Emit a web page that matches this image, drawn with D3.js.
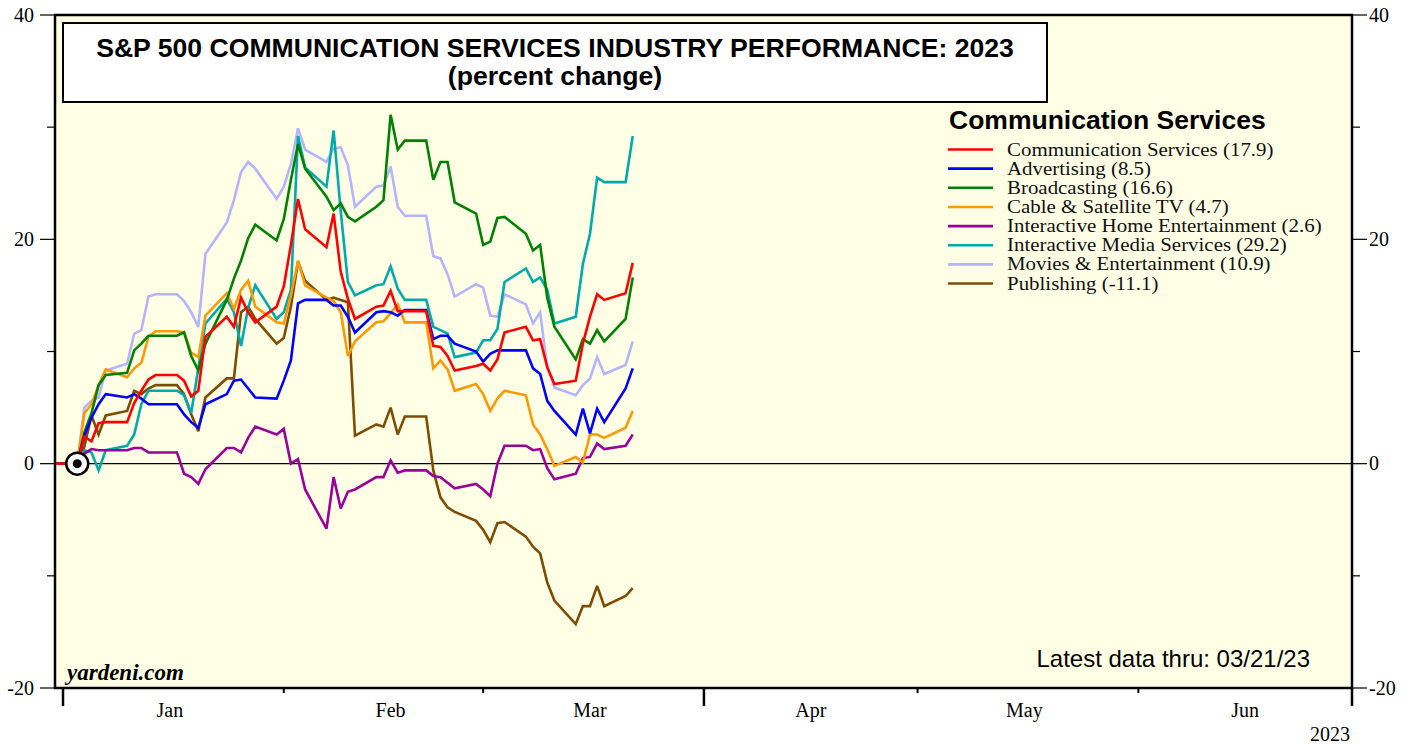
<!DOCTYPE html>
<html>
<head>
<meta charset="utf-8">
<script src="https://cdn.jsdelivr.net/npm/d3@7"></script>
<style>
  html, body { margin: 0; padding: 0; background: #ffffff; }
  svg { display: block; }
</style>
</head>
<body>
<svg id="chart" width="1417" height="744"></svg>
<script>
// ---------------- DATA ----------------
const dates = [
  "2022-12-30","2023-01-02","2023-01-03","2023-01-04","2023-01-05","2023-01-06",
  "2023-01-09","2023-01-10","2023-01-11","2023-01-12","2023-01-13",
  "2023-01-16","2023-01-17","2023-01-18","2023-01-19","2023-01-20",
  "2023-01-23","2023-01-24","2023-01-25","2023-01-26","2023-01-27",
  "2023-01-30","2023-01-31","2023-02-01","2023-02-02","2023-02-03",
  "2023-02-06","2023-02-07","2023-02-08","2023-02-09","2023-02-10",
  "2023-02-13","2023-02-14","2023-02-15","2023-02-16","2023-02-17",
  "2023-02-20","2023-02-21","2023-02-22","2023-02-23","2023-02-24",
  "2023-02-27","2023-02-28","2023-03-01","2023-03-02","2023-03-03",
  "2023-03-06","2023-03-07","2023-03-08","2023-03-09","2023-03-10",
  "2023-03-13","2023-03-14","2023-03-15","2023-03-16","2023-03-17",
  "2023-03-20","2023-03-21"
];

const communicationServices = [0,0,2.4,2.0,3.6,3.7, 3.7,5.4,6.5,7.5,7.9, 7.9,7.4,6.0,6.5,11.3, 13.1,12.2,14.8,13.5,12.6, 14.0,15.8,19.5,23.6,20.9, 19.3,22.3,17.1,14.7,12.9, 14.0,14.1,15.4,13.6,13.6, 13.6,10.5,10.4,9.6,8.3, 8.7,8.9,8.3,9.3,11.7, 12.2,11.0,11.1,8.6,7.1, 7.4,10.7,13.1,15.1,14.6, 15.2,17.9];
const advertising = [0,0,2.5,4.1,5.3,6.2, 5.9,6.2,5.8,5.3,5.3, 5.3,4.4,3.7,3.2,5.3, 6.2,7.4,7.5,6.7,5.9, 5.8,7.4,9.2,14.3,14.6, 14.6,14.1,14.1,13.1,11.7, 13.5,13.6,13.5,13.2,13.7, 13.7,11.1,11.4,11.4,10.7, 10.0,9.1,9.8,10.1,10.1, 10.1,8.5,8.0,5.6,4.7, 2.6,4.9,2.7,4.9,3.7, 6.7,8.5];
const broadcasting = [0,0,2.8,4.5,7.0,7.9, 8.1,10.1,10.7,11.4,11.4, 11.4,11.7,9.6,8.3,10.7, 14.6,16.5,18.1,20.1,21.3, 19.9,21.8,25.3,28.5,26.3, 23.8,22.6,23.2,22.0,21.6, 22.9,23.5,31.1,28.0,28.8, 28.8,25.3,26.9,26.9,23.3, 22.3,19.5,19.8,21.9,22.0, 20.5,19.0,19.5,14.8,12.2, 9.3,11.1,10.7,11.9,10.9, 12.9,16.6];
const cableSatellite = [0,0,4.5,5.3,7.0,8.4, 7.7,8.5,9.0,11.3,11.8, 11.8,11.7,9.9,9.5,13.2, 15.2,13.8,15.5,16.3,14.0, 12.6,12.5,15.0,18.1,15.9, 14.8,14.5,13.5,9.6,10.9, 12.6,12.7,13.4,14.2,12.6, 12.6,8.5,9.2,8.4,6.5, 7.1,6.2,4.7,5.8,6.5, 6.1,3.5,2.6,1.3,-0.2, 0.6,0.1,2.6,2.6,2.3, 3.2,4.7];
const interactiveHome = [0,0,0.9,1.3,1.2,1.2, 1.2,1.4,1.4,1.0,1.0, 1.0,-0.9,-1.2,-1.8,-0.5, 1.4,1.4,1.0,2.3,3.3, 2.6,3.1,0.0,0.4,-2.3, -5.8,-1.2,-4.0,-2.5,-2.3, -1.2,-1.2,0.3,-0.8,-0.6, -0.6,-1.1,-1.2,-1.7,-2.2, -1.8,-2.3,-2.9,0.0,1.6, 1.6,1.2,1.3,-0.4,-1.4, -0.9,0.5,0.6,1.8,1.3, 1.6,2.6];
const interactiveMedia = [0,0,1.2,1.0,-0.6,1.2, 1.6,2.6,5.3,6.5,6.5, 6.5,6.1,4.5,8.5,12.5, 14.7,13.5,10.5,13.9,15.9, 12.9,13.5,15.5,29.2,26.4, 24.7,29.7,22.5,16.2,15.0, 15.9,16.0,17.6,15.6,14.6, 14.6,12.2,11.9,11.6,9.5, 9.9,11.0,11.0,12.0,16.2, 17.4,16.2,16.6,15.5,12.5, 13.1,17.8,20.5,25.5,25.1, 25.1,29.2];
const moviesEntertainment = [0,0,5.0,5.6,5.9,8.3, 8.9,11.6,11.9,14.9,15.1, 15.1,14.5,13.5,12.2,18.7, 21.5,23.5,26.0,26.9,26.3, 23.6,24.7,26.7,29.9,28.0, 26.9,28.1,28.2,26.6,22.9, 24.7,24.8,26.5,22.9,22.1, 22.1,18.5,18.3,16.9,14.9, 16.0,15.7,13.2,13.1,15.1, 14.2,12.5,13.5,8.6,6.8, 6.1,7.0,7.6,9.5,8.0, 8.8,10.9];
const publishing = [0,0,1.5,4.3,2.6,4.3, 4.7,6.5,6.2,6.7,7.0, 7.0,6.2,4.4,2.9,5.9, 7.6,7.6,13.5,14.0,12.9, 10.7,11.2,14.0,18.0,16.3, 14.6,14.8,14.6,14.4,2.5, 3.5,3.3,5.0,2.6,4.2, 4.2,-0.6,-3.0,-3.9,-4.3, -5.1,-5.9,-7.0,-5.3,-5.2, -6.5,-7.4,-8.0,-10.6,-12.2, -14.3,-12.7,-12.7,-10.9,-12.7, -11.8,-11.1];

const seriesNames = [
  "Communication Services (17.9)",
  "Advertising (8.5)",
  "Broadcasting (16.6)",
  "Cable & Satellite TV (4.7)",
  "Interactive Home Entertainment (2.6)",
  "Interactive Media Services (29.2)",
  "Movies & Entertainment (10.9)",
  "Publishing (-11.1)"
];
const seriesValues = [communicationServices, advertising, broadcasting, cableSatellite,
  interactiveHome, interactiveMedia, moviesEntertainment, publishing];
const seriesColors = ["#ff0000","#0000ff","#008000","#ff9900","#990099","#00aaaa","#b4b4ff","#7f4c00"];

const yTickValues = [-20, 0, 20, 40];
const yMinorTicks = [-10, 10, 30];
const monthLabels = ["Jan","Feb","Mar","Apr","May","Jun"];

// ---------------- LAYOUT ----------------
const svg = d3.select("#chart");
const plot = { left: 55, right: 1352, top: 15, bottom: 688 };
const SANS = "'Liberation Sans', Arial, Helvetica, sans-serif";
const SERIF = "'Liberation Serif', 'Times New Roman', Times, serif";

const parse = d3.utcParse("%Y-%m-%d");
const x = d3.scaleUtc()
  .domain([Date.UTC(2023,0,1), Date.UTC(2023,6,1)])
  .range([63, 1352]);
const y = d3.scaleLinear().domain([-20, 40]).range([plot.bottom, plot.top]);

// plot background
svg.append("rect")
  .attr("x", plot.left).attr("y", plot.top)
  .attr("width", plot.right - plot.left).attr("height", plot.bottom - plot.top)
  .attr("fill", "#ffffe6");

svg.append("defs").append("clipPath").attr("id", "clip")
  .append("rect")
  .attr("x", plot.left).attr("y", plot.top)
  .attr("width", plot.right - plot.left).attr("height", plot.bottom - plot.top);

// zero line
svg.append("line")
  .attr("x1", plot.left).attr("x2", plot.right)
  .attr("y1", y(0)).attr("y2", y(0))
  .attr("stroke", "#000").attr("stroke-width", 1.2);

// series (values are end-of-day, plotted at the close of each date)
const pts = dates.map(d => d3.utcDay.offset(parse(d), 1));
const line = d3.line()
  .x((d, i) => x(pts[i]))
  .y(d => y(d));
const gLines = svg.append("g").attr("clip-path", "url(#clip)");
for (let k = seriesValues.length - 1; k >= 0; k--) {
  gLines.append("path")
    .datum(seriesValues[k])
    .attr("d", line)
    .attr("fill", "none")
    .attr("stroke", seriesColors[k])
    .attr("stroke-width", 2.6)
    .attr("stroke-linejoin", "miter")
    .attr("stroke-miterlimit", 3);
}

// base marker
const base = { x: x(pts[1]), y: y(0) };
svg.append("circle").attr("cx", base.x).attr("cy", base.y).attr("r", 11)
  .attr("fill", "#fff").attr("stroke", "#000").attr("stroke-width", 2.5);
svg.append("circle").attr("cx", base.x).attr("cy", base.y).attr("r", 4.5)
  .attr("fill", "#000");

// frame
svg.append("rect")
  .attr("x", plot.left).attr("y", plot.top)
  .attr("width", plot.right - plot.left).attr("height", plot.bottom - plot.top)
  .attr("fill", "none").attr("stroke", "#000").attr("stroke-width", 2.5);

// Y axes (left and right)
const gy = svg.append("g");
yTickValues.forEach(v => {
  gy.append("line").attr("x1", 40).attr("x2", plot.left)
    .attr("y1", y(v)).attr("y2", y(v)).attr("stroke", "#000").attr("stroke-width", 1.2);
  gy.append("line").attr("x1", plot.right).attr("x2", 1367)
    .attr("y1", y(v)).attr("y2", y(v)).attr("stroke", "#000").attr("stroke-width", 1.2);
  gy.append("text").attr("x", 34).attr("y", y(v) + 6.5)
    .attr("text-anchor", "end").attr("font-family", SERIF).attr("font-size", 20)
    .text(v);
  gy.append("text").attr("x", 1369).attr("y", y(v) + 6.5)
    .attr("text-anchor", "start").attr("font-family", SERIF).attr("font-size", 20)
    .text(v);
});
yMinorTicks.forEach(v => {
  gy.append("line").attr("x1", 47).attr("x2", plot.left)
    .attr("y1", y(v)).attr("y2", y(v)).attr("stroke", "#000").attr("stroke-width", 1.2);
  gy.append("line").attr("x1", plot.right).attr("x2", 1360)
    .attr("y1", y(v)).attr("y2", y(v)).attr("stroke", "#000").attr("stroke-width", 1.2);
});

// X axis ticks
const gx = svg.append("g");
const months = d3.utcMonth.range(Date.UTC(2023,0,1), Date.UTC(2023,6,2));
months.forEach(m => {
  const q = m.getUTCMonth() % 3 === 0;
  gx.append("line").attr("x1", x(m)).attr("x2", x(m))
    .attr("y1", plot.bottom).attr("y2", plot.bottom + (q ? 18 : 5))
    .attr("stroke", "#000").attr("stroke-width", q ? 2.5 : 2);
});
monthLabels.forEach((lab, i) => {
  const mid = d3.utcDay.offset(new Date(Date.UTC(2023, i, 1)), 15);
  gx.append("text").attr("x", x(mid)).attr("y", 717)
    .attr("text-anchor", "middle").attr("font-family", SERIF).attr("font-size", 20)
    .text(lab);
});
gx.append("text").attr("x", 1350).attr("y", 741)
  .attr("text-anchor", "end").attr("font-family", SERIF).attr("font-size", 20)
  .text("2023");

// Title box
svg.append("rect").attr("x", 63).attr("y", 23).attr("width", 984).attr("height", 79)
  .attr("fill", "#fff").attr("stroke", "#000").attr("stroke-width", 2);
svg.append("text").attr("x", 555).attr("y", 57)
  .attr("text-anchor", "middle").attr("font-family", SANS).attr("font-weight", "bold")
  .attr("font-size", 26.6).text("S&P 500 COMMUNICATION SERVICES INDUSTRY PERFORMANCE: 2023");
svg.append("text").attr("x", 555).attr("y", 85)
  .attr("text-anchor", "middle").attr("font-family", SANS).attr("font-weight", "bold")
  .attr("font-size", 26.6).text("(percent change)");

// Legend
svg.append("text").attr("x", 949).attr("y", 129)
  .attr("font-family", SANS).attr("font-weight", "bold").attr("font-size", 26.5)
  .text("Communication Services");
seriesNames.forEach((name, i) => {
  const ly = 149.5 + i * 19.15;
  svg.append("line").attr("x1", 948).attr("x2", 993).attr("y1", ly).attr("y2", ly)
    .attr("stroke", seriesColors[i]).attr("stroke-width", 2.6);
  const t = svg.append("text").attr("x", 1007).attr("y", ly + 6)
    .attr("font-family", SERIF).attr("font-size", 18.5).attr("fill", "#111")
    .text(name);
  // widen glyphs slightly to the reference's text width while keeping rows apart
  const w = t.node().getComputedTextLength();
  t.attr("textLength", w * 1.13).attr("lengthAdjust", "spacingAndGlyphs");
});

// footer texts
svg.append("text").attr("x", 1310).attr("y", 667)
  .attr("text-anchor", "end").attr("font-family", SANS).attr("font-size", 24)
  .text("Latest data thru: 03/21/23");
svg.append("text").attr("x", 67).attr("y", 680)
  .attr("font-family", SERIF).attr("font-weight", "bold").attr("font-style", "italic")
  .attr("font-size", 23).text("yardeni.com");
</script>
</body>
</html>
